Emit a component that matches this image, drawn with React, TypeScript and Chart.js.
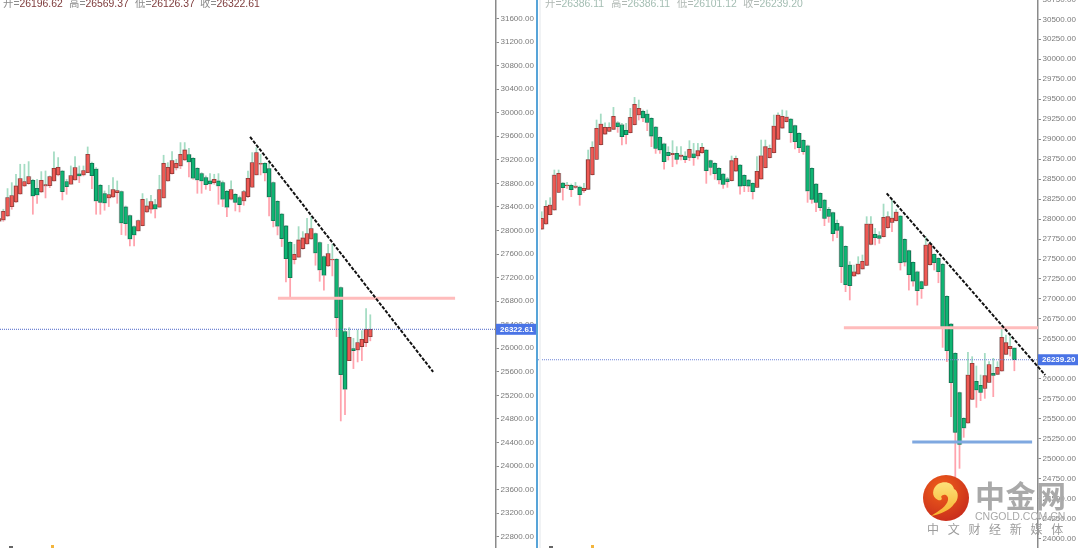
import React, { useEffect, useRef } from "react";
import { Chart, registerables } from "chart.js";
Chart.register(...registerables);

const leftOpen = [28157,28179,28247,28406,28485,28621,28757,28796,28853,28717,28655,28757,28762,28842,28944,29011,28830,28785,28859,28961,28944,28983,29142,29045,28768,28627,28553,28570,28644,28661,28400,28253,28066,27993,28083,28315,28361,28440,28395,28553,28842,28966,29062,29096,29198,29289,29227,29057,28966,28898,28842,28813,28842,28813,28666,28530,28615,28559,28502,28576,28734,28944,29125,29142,29051,28813,28496,28281,28078,27800,27506,27546,27693,27772,27857,27947,27795,27557,27398,27500,27512,27030,26283,25791,25995,25972,26029,26097,26196.62];
const leftHigh = [28236,28361,28712,28813,28955,29125,29125,29170,28870,28870,29000,29011,28927,29334,29238,29023,28870,29096,29255,29096,29096,29419,29164,29068,28785,28672,28768,28898,28842,28672,28417,28264,28078,28179,28627,28542,28598,28530,28938,29278,29153,29340,29210,29493,29493,29396,29238,29068,28983,28927,28966,28955,28966,28842,28683,28842,28627,28587,28683,29011,29323,29408,29294,29153,29153,28825,28508,28293,28089,27812,27766,28066,27981,28208,28236,27959,27806,27568,27766,27766,27523,27042,26340,26351,26170,26312,26300,26674,26569.37];
const leftLow = [28134,28157,28236,28361,28474,28615,28745,28785,28276,28462,28644,28553,28728,28836,28927,28519,28615,28785,28853,28813,28927,28983,28712,28276,28276,28344,28406,28559,28462,27930,27919,27738,27738,27993,28078,28304,28293,28213,28395,28553,28836,28955,29028,29051,29187,28910,28870,28632,28632,28700,28678,28785,28445,28406,28236,28519,28332,28315,28429,28559,28728,28944,28944,28842,28247,28061,27925,27727,27127,26861,27432,27546,27681,27766,27851,27410,27138,26985,27387,27229,26198,24766,24874,25791,25655,25768,25791,26029,26126.37];
const leftClose = [28202,28327,28559,28593,28757,28881,28830,28915,28587,28604,28853,28779,28915,29057,29074,28661,28745,28932,29068,28927,29017,29294,28932,28502,28479,28468,28610,28695,28678,28129,28117,27857,27925,28168,28530,28417,28491,28366,28695,29142,29074,29187,29142,29294,29368,29164,28887,28859,28842,28779,28791,28870,28757,28530,28395,28695,28479,28440,28661,28887,29153,29323,29142,28978,28570,28168,28072,27863,27523,27200,27596,27840,27874,27947,28032,27619,27330,27240,27608,27512,26521,25553,25304,26187,25961,26097,26153,26323,26322.61];

const rightOpen = [27875,27938,28055,28113,28334,28451,28418,28422,28397,28401,28355,28372,28555,28747,28931,29064,29098,29123,29206,29181,29110,29081,29181,29302,29348,29315,29260,29152,29023,28943,28835,28806,28822,28785,28789,28772,28818,28789,28831,28864,28731,28697,28635,28564,28505,28480,28601,28676,28547,28489,28447,28397,28501,28643,28768,28831,28998,29139,29219,29252,29169,29073,28985,28918,28635,28439,28322,28238,28122,28080,27946,27905,27659,27425,27287,27312,27375,27421,27684,27809,27792,27779,27892,27958,27979,28037,27745,27604,27458,27341,27216,27170,27428,27558,27508,27433,27033,26687,26319,25827,25506,25447,25744,25969,25919,25881,25956,26069,26057,26098,26307,26378,26386.11];
const rightHigh = [28092,28230,28268,28614,28614,28459,28459,28439,28459,28414,28447,28864,28968,29240,29315,29206,29206,29398,29219,29198,29198,29386,29523,29490,29365,29365,29269,29160,29031,28952,28906,28981,28906,28906,28843,28981,28947,28947,28947,28872,28739,28706,28643,28572,28522,28789,28789,28685,28555,28497,28455,28781,28989,28989,28927,29302,29331,29365,29356,29260,29177,29081,28994,28927,28643,28447,28330,28247,28147,28088,27988,27913,27667,27467,27425,27529,27550,28030,28030,27884,27842,28188,28092,28238,28121,28046,27754,27612,27466,27349,27224,27779,27716,27566,27516,27446,27041,26695,26328,25835,25514,26332,26278,26161,26048,26319,26215,26257,26215,26653,26549,26528,26386.11];
const rightLow = [27871,27934,28051,28109,28330,28238,28384,28280,28384,28172,28334,28368,28551,28743,28927,29060,29093,29119,29085,28927,28939,29077,29177,29240,29219,29106,28906,28822,28822,28626,28739,28655,28689,28739,28706,28731,28672,28751,28822,28447,28551,28497,28439,28384,28397,28476,28597,28313,28343,28343,28251,28393,28497,28639,28764,28827,28993,29135,29214,28960,28877,28831,28810,28209,28197,28092,28105,27917,27959,27725,27767,27204,27091,26987,27279,27308,27371,27417,27675,27675,27696,27775,27884,27841,27975,27362,27412,27111,27161,26923,27007,27165,27424,27362,27203,26394,26215,25527,24770,24880,25268,25443,25739,25643,25727,25756,25952,25777,26052,26094,26303,26286,26101.12];
const rightClose = [28009,28159,28176,28551,28572,28393,28426,28368,28414,28305,28384,28743,28897,29135,29189,29148,29148,29285,29156,29031,29056,29273,29436,29386,29265,29210,29039,28885,28864,28718,28793,28822,28747,28801,28743,28872,28768,28856,28897,28605,28647,28568,28489,28434,28468,28731,28760,28413,28418,28413,28343,28597,28793,28906,28885,29164,29302,29285,29277,29081,28968,28893,28843,28351,28247,28209,28142,28009,28034,27817,27859,27404,27179,27166,27341,27437,27471,27938,27938,27767,27759,28021,28030,28012,28087,27453,27462,27303,27224,27103,27128,27674,27691,27453,27341,26632,26353,25952,25331,25180,25385,26048,26194,25860,25831,26040,26178,26044,26144,26520,26453,26407,26239.2];

const leftTicks = [22800,23200,23600,24000,24400,24800,25200,25600,26000,26400,26800,27200,27600,28000,28400,28800,29200,29600,30000,30400,30800,31200,31600];
const rightTicks = [24000,24250,24500,24750,25000,25250,25500,25750,26000,26250,26500,26750,27000,27250,27500,27750,28000,28250,28500,28750,29000,29250,29500,29750,30000,30250,30500,30750];

const leftTrendIndex = [59.5, 102.9];
const leftTrendPrice = [29590, 25600];
const leftPinkIndex = [66.1, 108.1];
const leftPinkPrice = [26851, 26851];
const rightTrendIndex = [81.75, 119.3];
const rightTrendPrice = [28322, 26048];
const rightPinkIndex = [71.6, 117.6];
const rightPinkPrice = [26640, 26640];
const rightBlueIndex = [87.8, 116.2];
const rightBluePrice = [25209, 25209];

const leftHeader = [["开=", "26196.62"], ["高=", "26569.37"], ["低=", "26126.37"], ["收=", "26322.61"]];
const rightHeader = [["开=", "26386.11"], ["高=", "26386.11"], ["低=", "26101.12"], ["收=", "26239.20"]];

const RED = "#ef5a55", RED_EDGE = "#8c3632", GREEN = "#0fb573", GREEN_EDGE = "#0d7350";
const WICK_UP = "#a4dcc3", WICK_DOWN = "#ffa3ad", FRINGE = "#c4c4c4";

function line(xs: number[], ys: number[], color: string, width: number, dash: number[], order = 1) {
  return {
    type: "line", order, clip: false,
    data: xs.map((x, i) => ({ x, y: ys[i] })),
    borderColor: color, borderWidth: width, borderDash: dash, pointRadius: 0, tension: 0, fill: false,
  };
}

function build(canvas: HTMLCanvasElement, p: any) {
  const idx = p.open.map((_: number, i: number) => i);
  const top = (i: number) => Math.max(p.open[i], p.close[i]);
  const bot = (i: number) => Math.min(p.open[i], p.close[i]);
  const up = (i: number) => p.close[i] >= p.open[i];
  const last = p.close[p.close.length - 1];
  const tag = {
    id: "priceTag",
    afterDraw(chart: any) {
      const s = chart.scales.y, ctx = chart.ctx, y = s.getPixelForValue(last);
      ctx.save();
      ctx.fillStyle = "#4a74e6";
      ctx.fillRect(s.left, y - 5.5, 40, 11);
      ctx.fillStyle = "#fff";
      ctx.font = 'bold 8px "Liberation Sans"';
      ctx.textBaseline = "middle";
      ctx.fillText(last.toFixed(2), s.left + 4, y + 0.5);
      ctx.restore();
    },
  };
  return new Chart(canvas, {
    type: "bar",
    data: {
      datasets: [
        { order: 5, grouped: false, barThickness: 1.1, backgroundColor: WICK_UP, borderWidth: 0,
          data: idx.map((i: number) => ({ x: i, y: [top(i), p.high[i]] })) },
        { order: 5, grouped: false, barThickness: 1.1, backgroundColor: WICK_DOWN, borderWidth: 0,
          data: idx.map((i: number) => ({ x: i, y: [p.low[i], bot(i)] })) },
        { order: 4, grouped: false, barThickness: 4.6, backgroundColor: FRINGE, borderWidth: 0,
          data: idx.map((i: number) => ({ x: i, y: [p.open[i], p.close[i]] })) },
        { order: 3, grouped: false, barThickness: 3.6, borderSkipped: false, borderWidth: 0.8,
          backgroundColor: idx.map((i: number) => (up(i) ? RED : GREEN)),
          borderColor: idx.map((i: number) => (up(i) ? RED_EDGE : GREEN_EDGE)),
          data: idx.map((i: number) => ({ x: i, y: [p.open[i], p.close[i]] })) },
        line(p.pinkX, p.pinkY, "#ffbcbc", 3, [], 2),
        ...(p.blueX ? [line(p.blueX, p.blueY, "#7fa8e0", 3, [], 2)] : []),
        line(p.trendX, p.trendY, "#111", 2, [3.5, 1.5]),
        line([p.xMin, p.xMax], [last, last], p.dotColor, 1, [1, 1]),
      ] as any,
    },
    options: {
      animation: false, responsive: false,
      layout: { padding: 0, autoPadding: false },
      plugins: { legend: { display: false }, tooltip: { enabled: false } },
      scales: {
        x: { type: "linear", display: false, offset: false, min: p.xMin, max: p.xMax },
        y: {
          position: "right", min: p.yMin, max: p.yMax,
          afterFit: (s: any) => { s.width = p.axisWidth; s.paddingTop = 0; s.paddingBottom = 0; },
          afterBuildTicks: (s: any) => { s.ticks = p.ticks.map((value: number) => ({ value })); },
          border: { display: true, color: "#8a8a8a", width: 1.5 },
          grid: { drawOnChartArea: false, drawTicks: true, tickLength: 3, color: "#8a8a8a" },
          ticks: {
            autoSkip: false, padding: 1.5, color: "#7a7a7a", maxRotation: 0,
            font: { family: "Liberation Sans", size: 8 },
            callback: (v: any) => Number(v).toFixed(2),
          },
        },
      },
    } as any,
    plugins: [tag],
  });
}

const FONT = '"Liberation Sans","Noto Sans CJK SC",sans-serif';

function Header({ items, xs, valueColor, labelColor }: any) {
  return items.map((it: string[], i: number) => (
    <span key={i} style={{ position: "absolute", left: xs[i], top: -2, font: `10.4px/12px ${FONT}`, whiteSpace: "nowrap", color: valueColor }}>
      <span style={{ color: labelColor }}>{it[0]}</span>{it[1]}
    </span>
  ));
}

export default function App() {
  const a = useRef<HTMLCanvasElement>(null);
  const b = useRef<HTMLCanvasElement>(null);
  useEffect(() => {
    const c1 = build(a.current!, {
      open: leftOpen, high: leftHigh, low: leftLow, close: leftClose, ticks: leftTicks,
      xMin: 0.21, xMax: 117.8, yMin: 22609, yMax: 31914, axisWidth: 40,
      trendX: leftTrendIndex, trendY: leftTrendPrice, pinkX: leftPinkIndex, pinkY: leftPinkPrice,
      dotColor: "#4a64c8",
    });
    const c2 = build(b.current!, {
      open: rightOpen, high: rightHigh, low: rightLow, close: rightClose, ticks: rightTicks,
      xMin: -0.88, xMax: 117.6, yMin: 23883, yMax: 30867, axisWidth: 42,
      trendX: rightTrendIndex, trendY: rightTrendPrice, pinkX: rightPinkIndex, pinkY: rightPinkPrice,
      blueX: rightBlueIndex, blueY: rightBluePrice, dotColor: "#6f86d8",
    });
    return () => { c1.destroy(); c2.destroy(); };
  }, []);
  return (
    <div style={{ position: "fixed", left: 0, top: 0, width: 1080, height: 548, overflow: "hidden", background: "#fff" }}>
      <canvas ref={a} width={536} height={548} style={{ position: "absolute", left: 0, top: 0, width: 536, height: 548 }} />
      <canvas ref={b} width={542} height={558} style={{ position: "absolute", left: 538, top: -10, width: 542, height: 558 }} />
      <div style={{ position: "absolute", left: 536, top: 0, width: 1.5, height: 548, background: "#57a4d8" }} />
      <div style={{ position: "absolute", left: 538.5, top: 0, width: 2.5, height: 548, background: "#f0f2f4" }} />
      <Header items={leftHeader} xs={[3, 69, 135, 200]} valueColor="#7d3a3a" labelColor="#8a8a8a" />
      <Header items={rightHeader} xs={[545, 611, 677, 743]} valueColor="#a3bdb2" labelColor="#b0b8b4" />
      <div style={{ position: "absolute", left: 9, top: 546, width: 4, height: 2, background: "#666" }} />
      <div style={{ position: "absolute", left: 51, top: 545, width: 3, height: 3, background: "#f3b53c" }} />
      <div style={{ position: "absolute", left: 549, top: 546, width: 4, height: 2, background: "#666" }} />
      <div style={{ position: "absolute", left: 591, top: 545, width: 3, height: 3, background: "#f3b53c" }} />
      <svg width="50" height="50" style={{ position: "absolute", left: 921, top: 473 }}>
        <defs>
          <radialGradient id="lg" cx="0.4" cy="0.3" r="0.8">
            <stop offset="0" stopColor="#f0601a" />
            <stop offset="1" stopColor="#c5281c" />
          </radialGradient>
          <linearGradient id="cl" x1="0" y1="0" x2="0" y2="1">
            <stop offset="0" stopColor="#fde27a" />
            <stop offset="1" stopColor="#f7b22e" />
          </linearGradient>
        </defs>
        <circle cx="25" cy="25" r="23" fill="url(#lg)" />
        <path d="M17 11 C24 7 32 10 33 16 C38 18 38 27 33 31 C29 37 20 41 10 43 C18 38 26 33 27 27 C28 22 22 20 20 24 C22 26 20 28 17 27 C10 24 11 15 17 11 Z" fill="url(#cl)" />
      </svg>
      <div style={{ position: "absolute", left: 975, top: 476, font: `bold 30px/36px "Noto Sans CJK SC"`, color: "#a9a9a9", whiteSpace: "nowrap", letterSpacing: 0.5 }}>中金网</div>
      <div style={{ position: "absolute", left: 975, top: 510, font: `10.5px/13px ${FONT}`, color: "#a9a9a9", letterSpacing: 0, whiteSpace: "nowrap" }}>CNGOLD.COM.CN</div>
      <div style={{ position: "absolute", left: 927, top: 522, font: `12px/14px "Noto Sans CJK SC"`, color: "#9c9c9c", letterSpacing: 8.7, whiteSpace: "nowrap" }}>中文财经新媒体</div>
    </div>
  );
}
